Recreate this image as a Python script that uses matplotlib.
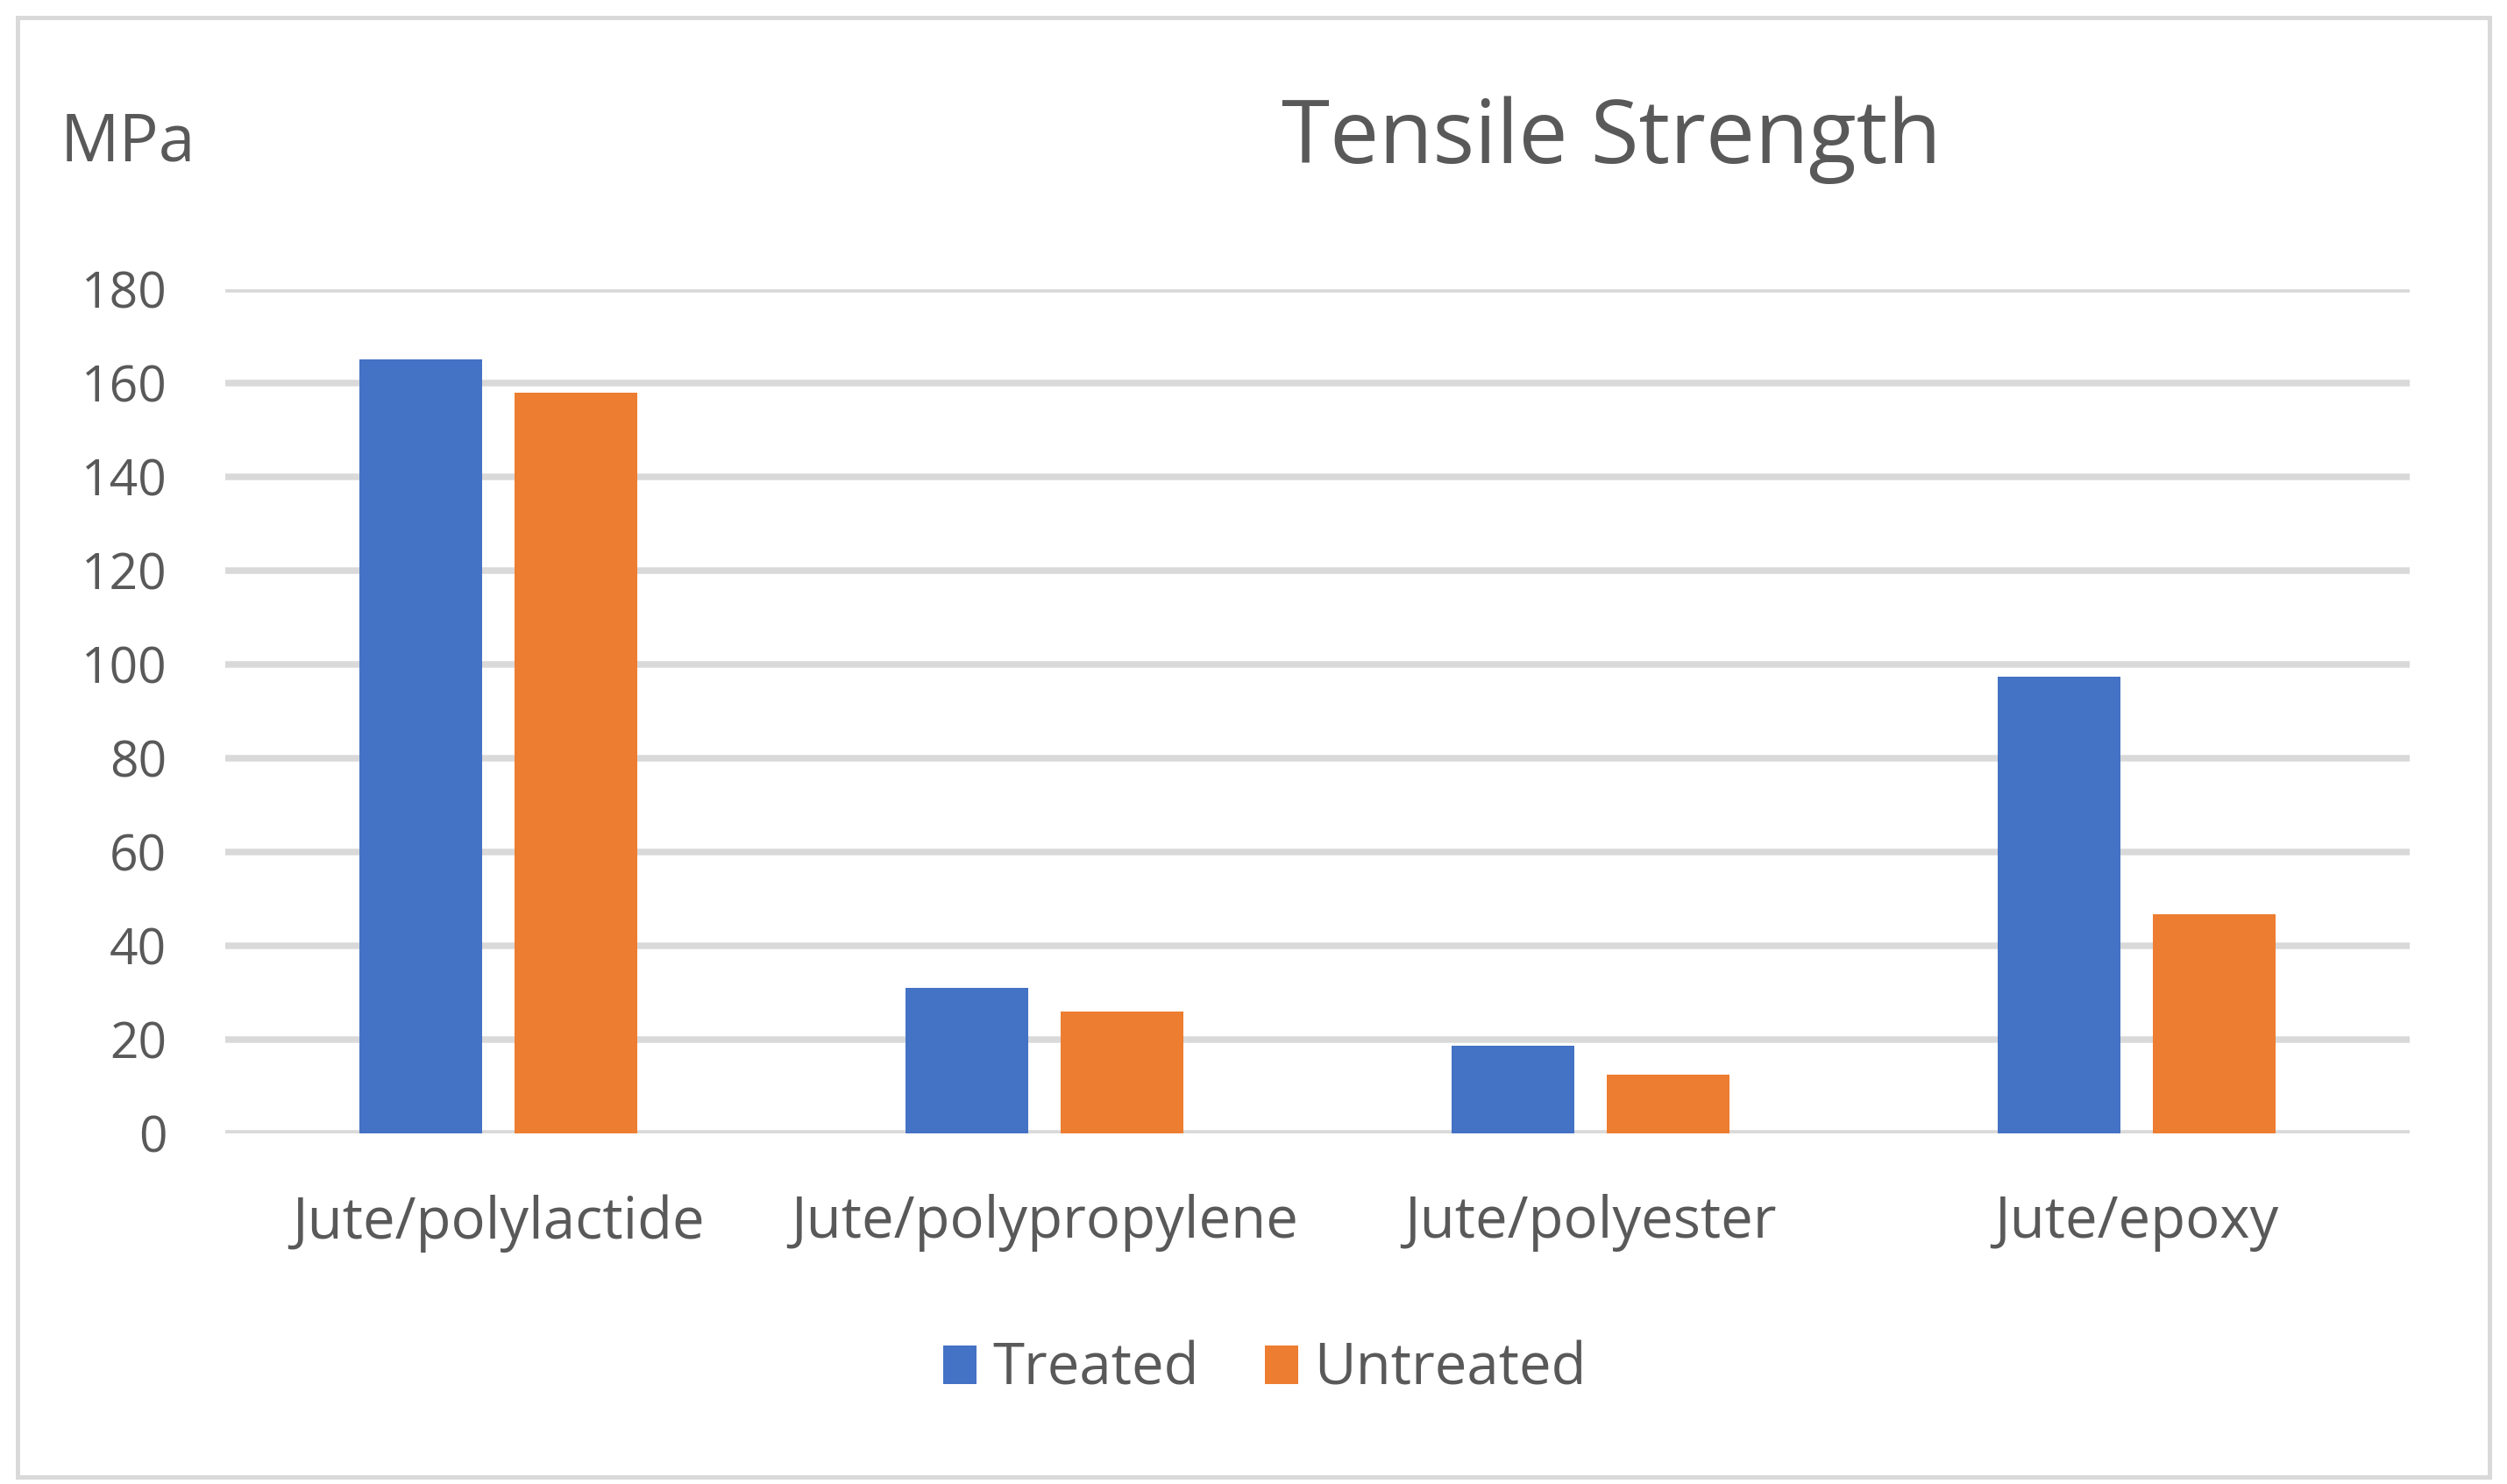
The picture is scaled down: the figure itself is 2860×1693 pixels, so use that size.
import matplotlib
matplotlib.use("Agg")
import matplotlib.pyplot as plt
from matplotlib.patches import Rectangle
import numpy as np

plt.rcParams['font.family'] = ['Open Sans', 'DejaVu Sans']

categories = ["Jute/polylactide", "Jute/polypropylene", "Jute/polyester", "Jute/epoxy"]
treated = [165, 31, 18.7, 97.4]
untreated = [158, 26, 12.5, 46.7]
series_names = ["Treated", "Untreated"]
yticks = [0, 20, 40, 60, 80, 100, 120, 140, 160, 180]

W, H = 2860, 1693
DPI = 100
fig = plt.figure(figsize=(W / DPI, H / DPI), dpi=DPI)
fig.patch.set_facecolor("white")

TXT = "#595959"
GRID = "#D9D9D9"
BLUE = "#4472C4"
ORANGE = "#ED7D31"

ax = fig.add_axes([257 / W, 1 - 1293 / H, (2749 - 257) / W, (1293 - 330) / H])
x = np.arange(len(categories))
bw = 0.225
off = 0.1425
ax.bar(x - off, treated, bw, color=BLUE, label=series_names[0], zorder=3)
ax.bar(x + off, untreated, bw, color=ORANGE, label=series_names[1], zorder=3)

ax.set_xlim(-0.5, len(categories) - 0.5)
ax.set_ylim(0, 180)
ax.set_yticks(yticks)
ax.set_yticklabels([str(v) for v in yticks])
ax.set_xticks(x)
ax.set_xticklabels(categories)
ax.yaxis.grid(True, color=GRID, linewidth=5.4, zorder=0)
ax.set_axisbelow(True)
for s in ax.spines.values():
    s.set_visible(False)
ax.tick_params(axis='both', length=0, colors=TXT)
ax.tick_params(axis='y', pad=48, labelsize=41)
ax.tick_params(axis='x', pad=50, labelsize=47)
for lbl in ax.get_yticklabels() + ax.get_xticklabels():
    lbl.set_color(TXT)

fig.text(1838 / W, 1 - 186 / H, "Tensile Strength", ha="center", va="baseline",
         fontsize=72, color=TXT)
fig.text(69 / W, 1 - 184 / H, "MPa", ha="left", va="baseline", fontsize=54, color=TXT)

leg = fig.legend(loc="center", bbox_to_anchor=(1443 / W, 1 - 1563 / H), ncol=2,
                 frameon=False, fontsize=47, handlelength=0.58, handleheight=0.67,
                 handletextpad=0.28, columnspacing=1.15)
for t in leg.get_texts():
    t.set_color(TXT)

fig.patches.append(Rectangle((20 / W, 1 - 1685 / H), 2820 / W, 1665 / H,
                             transform=fig.transFigure, fill=False,
                             edgecolor=GRID, linewidth=3.6))

fig.savefig("out.png", dpi=DPI, facecolor="white")
